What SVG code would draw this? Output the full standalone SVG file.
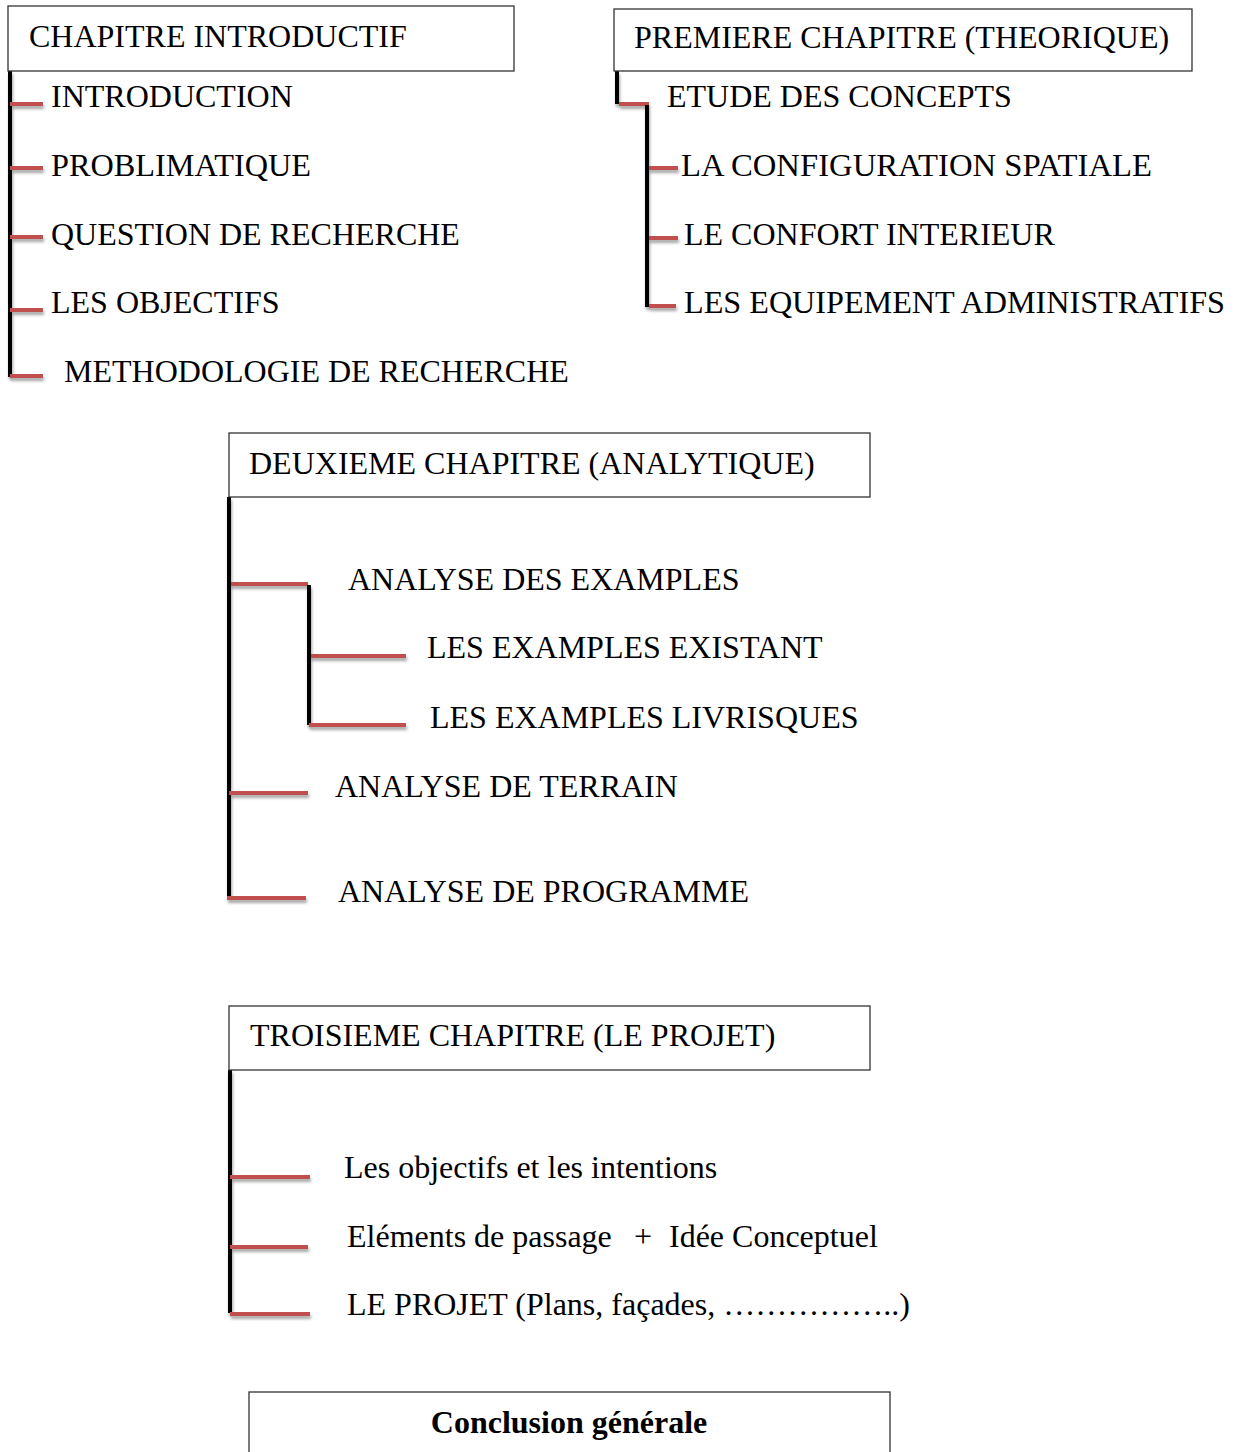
<svg xmlns="http://www.w3.org/2000/svg" width="1244" height="1452" viewBox="0 0 1244 1452">
<style>
text{font-family:"Liberation Serif","Times New Roman",serif;font-size:32px;fill:#000}
.box{fill:#fff;stroke:#333;stroke-width:1.3}
.blk{stroke:#000;stroke-width:4;fill:none}
.red{stroke:#C0504D;stroke-width:4;fill:none}
.b{font-weight:bold}
</style>
<defs>
<filter id="sh" x="-10%" y="-50%" width="130%" height="300%">
<feDropShadow dx="1" dy="3" stdDeviation="1.5" flood-color="#000" flood-opacity="0.35"/>
</filter>
</defs>
<g id="connectors" filter="url(#sh)">
<line class="blk" x1="10" y1="71" x2="10" y2="377"/>
<line class="red" x1="10" y1="104" x2="43" y2="104"/>
<line class="red" x1="10" y1="168" x2="43" y2="168"/>
<line class="red" x1="10" y1="237" x2="43" y2="237"/>
<line class="red" x1="10" y1="310" x2="43" y2="310"/>
<line class="red" x1="10" y1="376" x2="43" y2="376"/>
<line class="blk" x1="617" y1="71" x2="617" y2="104"/>
<line class="red" x1="619" y1="104" x2="649" y2="104"/>
<line class="blk" x1="647" y1="105" x2="647" y2="307"/>
<line class="red" x1="649" y1="168" x2="678" y2="168"/>
<line class="red" x1="649" y1="238" x2="678" y2="238"/>
<line class="red" x1="649" y1="306" x2="676" y2="306"/>
<line class="blk" x1="229" y1="497" x2="229" y2="897"/>
<line class="red" x1="231" y1="584" x2="308" y2="584"/>
<line class="blk" x1="309" y1="585" x2="309" y2="725"/>
<line class="red" x1="311" y1="656" x2="406" y2="656"/>
<line class="red" x1="309" y1="725" x2="406" y2="725"/>
<line class="red" x1="229" y1="793" x2="308" y2="793"/>
<line class="red" x1="227" y1="898" x2="306" y2="898"/>
<line class="blk" x1="230" y1="1070" x2="230" y2="1313"/>
<line class="red" x1="230" y1="1177" x2="310" y2="1177"/>
<line class="red" x1="230" y1="1247" x2="308" y2="1247"/>
<line class="red" x1="230" y1="1314" x2="310" y2="1314"/>
</g>
<g id="ch-intro">
<rect class="box" x="8" y="6" width="506" height="65"/>
<text x="29" y="47">CHAPITRE INTRODUCTIF</text>
</g>
<g id="intro-items">
<text x="51" y="107">INTRODUCTION</text>
<text x="51" y="176" textLength="260" lengthAdjust="spacingAndGlyphs">PROBLIMATIQUE</text>
<text x="51" y="245">QUESTION DE RECHERCHE</text>
<text x="51" y="313">LES OBJECTIFS</text>
<text x="64" y="382">METHODOLOGIE DE RECHERCHE</text>
</g>
<g id="ch-1">
<rect class="box" x="614" y="9" width="578" height="62"/>
<text x="634" y="48">PREMIERE CHAPITRE (THEORIQUE)</text>
</g>
<g id="ch1-items">
<text x="667" y="107">ETUDE DES CONCEPTS</text>
<text x="681" y="176" textLength="471" lengthAdjust="spacingAndGlyphs">LA CONFIGURATION SPATIALE</text>
<text x="684" y="245">LE CONFORT INTERIEUR</text>
<text x="684" y="313" textLength="541" lengthAdjust="spacingAndGlyphs">LES EQUIPEMENT ADMINISTRATIFS</text>
</g>
<g id="ch-2">
<rect class="box" x="229" y="433" width="641" height="64"/>
<text x="249" y="474">DEUXIEME CHAPITRE (ANALYTIQUE)</text>
</g>
<g id="ch2-items">
<text x="348" y="590">ANALYSE DES EXAMPLES</text>
<text x="427" y="658">LES EXAMPLES EXISTANT</text>
<text x="430" y="728">LES EXAMPLES LIVRISQUES</text>
<text x="335" y="797">ANALYSE DE TERRAIN</text>
<text x="338" y="902">ANALYSE DE PROGRAMME</text>
</g>
<g id="ch-3">
<rect class="box" x="229" y="1006" width="641" height="64"/>
<text x="250" y="1046">TROISIEME CHAPITRE (LE PROJET)</text>
</g>
<g id="ch3-items">
<text x="344" y="1178">Les objectifs et les intentions</text>
<text y="1247"><tspan x="347">Eléments de passage</tspan><tspan x="634">+</tspan><tspan x="669">Idée Conceptuel</tspan></text>
<text x="347" y="1315">LE PROJET (Plans, façades, ……………..)</text>
</g>
<g id="conclusion">
<rect class="box" x="249" y="1392" width="641" height="80"/>
<text class="b" x="569" y="1433" text-anchor="middle">Conclusion générale</text>
</g>
</svg>
